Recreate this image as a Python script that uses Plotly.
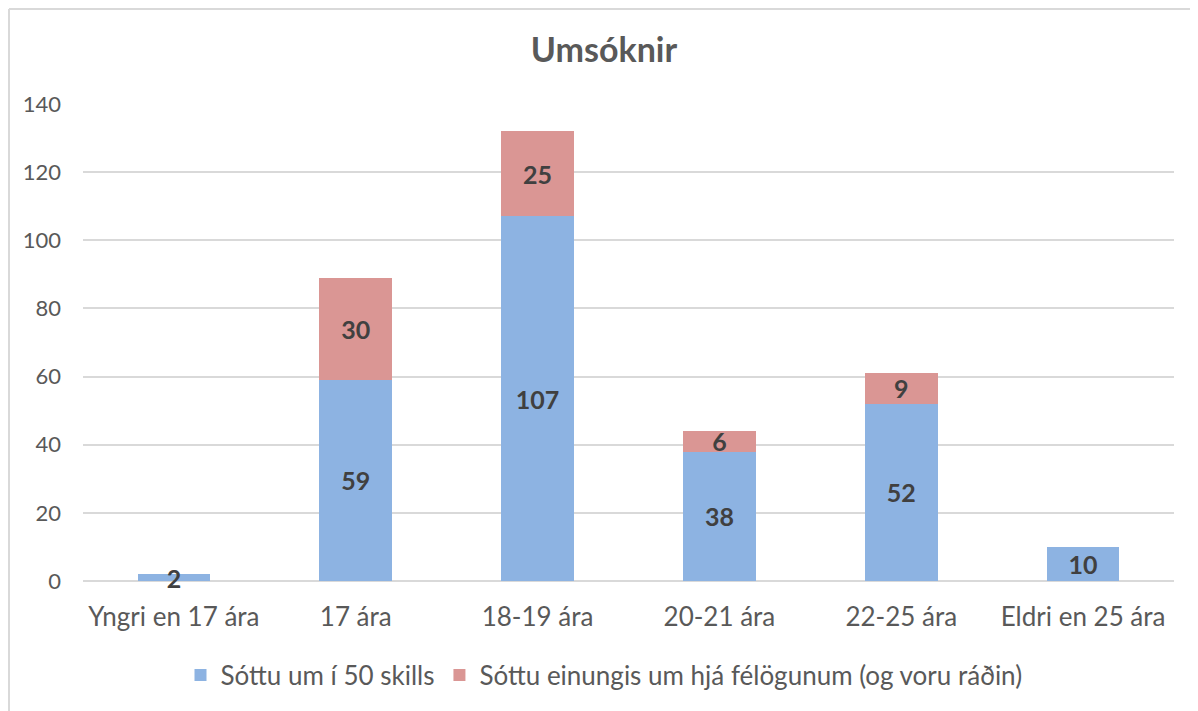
import plotly.graph_objects as go

categories = ["Yngri en 17 ára", "17 ára", "18-19 ára", "20-21 ára", "22-25 ára", "Eldri en 25 ára"]
series1_name = "Sóttu um í 50 skills"
series1 = [2, 59, 107, 38, 52, 10]
series2_name = "Sóttu einungis um hjá félögunum (og voru ráðin)"
series2 = [None, 30, 25, 6, 9, None]
y_ticks = [0, 20, 40, 60, 80, 100, 120, 140]

FONT = "Lato"
LABEL_FONT = dict(family=FONT, size=25, color="#404040", weight="bold")

fig = go.Figure()
fig.add_trace(go.Bar(
    x=categories, y=series1, name=series1_name,
    marker=dict(color="#8DB3E2", line=dict(width=0)),
    text=[str(v) for v in series1], textposition="inside", insidetextanchor="middle",
    textangle=0, constraintext="none", cliponaxis=False,
    textfont=LABEL_FONT,
))
fig.add_trace(go.Bar(
    x=categories, y=series2, name=series2_name,
    marker=dict(color="#DA9694", line=dict(width=0)),
    text=[str(v) if v is not None else "" for v in series2], textposition="inside",
    insidetextanchor="middle", textangle=0, constraintext="none", cliponaxis=False,
    textfont=LABEL_FONT,
))

# page has an 8px body margin; figure sized to fit the 1198x711 window
OFF = 8
W, H = 1198 - OFF, 711 - OFF
L, T = 83 - OFF, 104 - OFF
R = W - (1174 - OFF)
B = H - (581 - OFF)
pw, ph = W - L - R, H - T - B

def px(x):
    return (x - L) / pw

def py(y):
    return (H - B - y) / ph

shapes = [
    dict(type="line", xref="paper", yref="paper", x0=px(1), x1=px(1), y0=py(H + 10), y1=py(1),
         line=dict(color="#D9D9D9", width=2)),
    dict(type="line", xref="paper", yref="paper", x0=px(1), x1=px(W + 10), y0=py(1), y1=py(1),
         line=dict(color="#D9D9D9", width=2)),
]

fig.update_layout(
    width=W, height=H,
    barmode="stack", bargap=0.6,
    margin=dict(l=L, r=R, t=T, b=B),
    paper_bgcolor="white", plot_bgcolor="white",
    font=dict(family=FONT, color="#595959", size=18),
    title=dict(text="<b>Umsóknir</b>", x=(604 - OFF) / W, xref="container", xanchor="center",
               y=1 - (50 - OFF) / H, yanchor="middle", yref="container",
               font=dict(family=FONT, size=34, color="#595959")),
    legend=dict(orientation="h", x=(604 - OFF) / W, xanchor="center", xref="container",
                y=1 - (675 - OFF) / H, yanchor="middle", yref="container",
                font=dict(family=FONT, size=26, color="#595959"),
                itemwidth=30, traceorder="normal"),
    shapes=shapes,
    uniformtext=dict(mode=False),
)
fig.update_yaxes(range=[0, 140], tickvals=y_ticks, showgrid=True, gridcolor="#D9D9D9",
                 gridwidth=1.5, zeroline=True, zerolinecolor="#D9D9D9", zerolinewidth=1.5,
                 showline=False, ticks="", ticklabelstandoff=21,
                 tickfont=dict(family=FONT, size=22, color="#595959"), fixedrange=True)
fig.update_xaxes(showline=False, ticks="", ticklabelstandoff=18,
                 tickfont=dict(family=FONT, size=26, color="#595959"), fixedrange=True)

fig.write_html("out.html")
